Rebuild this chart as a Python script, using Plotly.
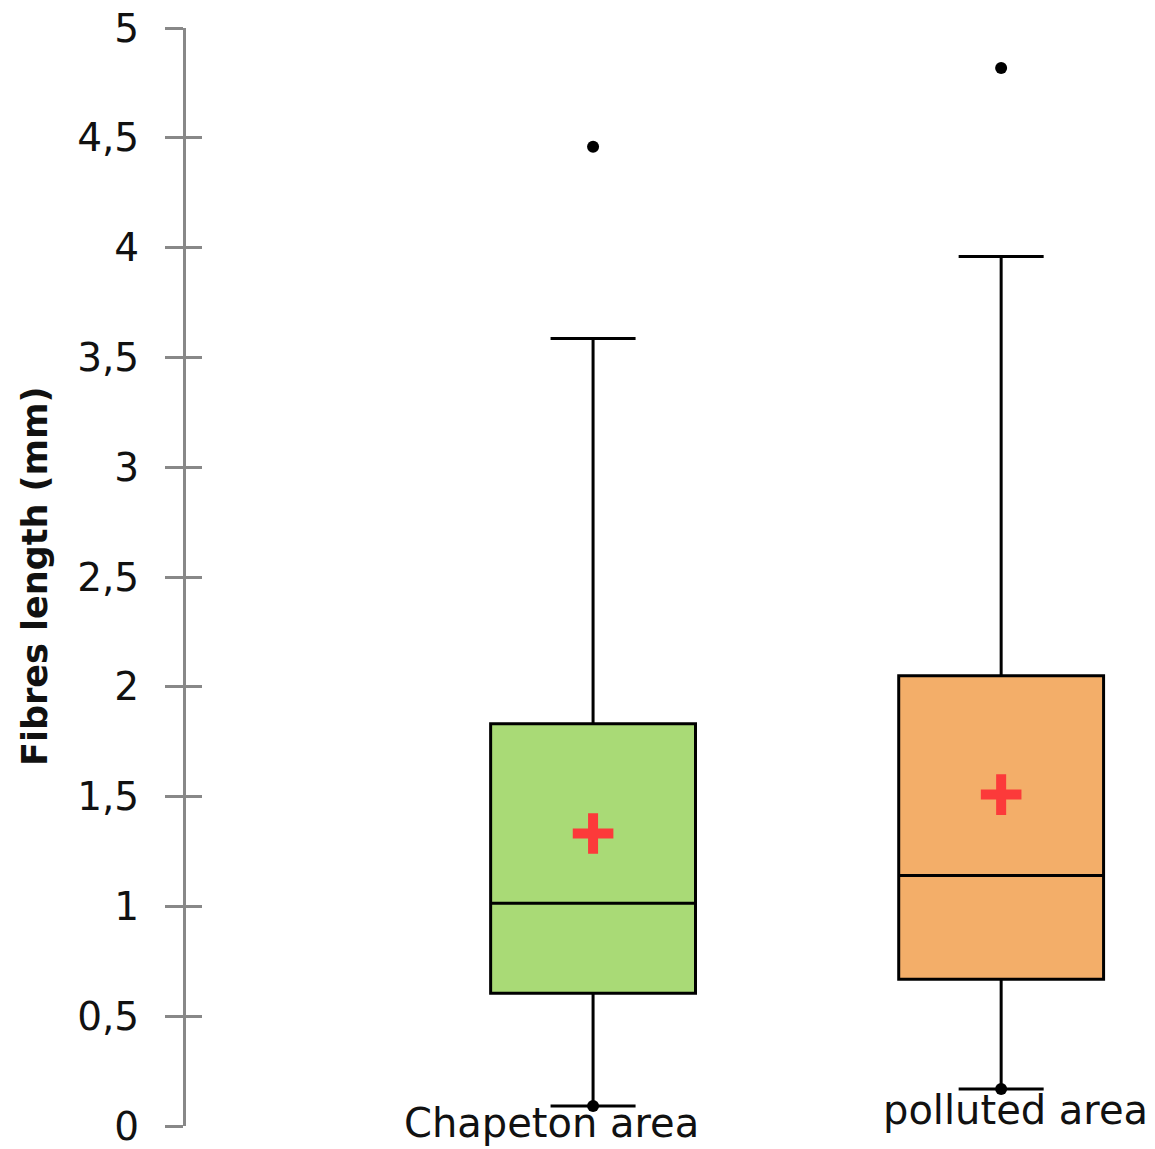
import plotly.graph_objects as go

# Data
categories = ["Chapeton area", "polluted area"]
positions = [0, 1]
q1 = [0.605, 0.668]
median = [1.014, 1.141]
q3 = [1.832, 2.05]
lower_whisker = [0.091, 0.168]
upper_whisker = [3.586, 3.959]
means = [1.332, 1.509]
outliers = [4.459, 4.818]
minimums = [0.091, 0.168]
fill_colors = ["#A9DA76", "#F3AE69"]

yticks = [0, 0.5, 1, 1.5, 2, 2.5, 3, 3.5, 4, 4.5, 5]

fig = go.Figure()

for i in range(len(categories)):
    fig.add_trace(go.Box(
        x=[positions[i]],
        q1=[q1[i]], median=[median[i]], q3=[q3[i]],
        lowerfence=[lower_whisker[i]], upperfence=[upper_whisker[i]],
        name=categories[i],
        fillcolor=fill_colors[i],
        line=dict(color="black", width=3),
        width=0.502,
        whiskerwidth=0.415,
        boxpoints=False,
        hoverinfo="skip",
        showlegend=False,
    ))

# outliers and minimum points
fig.add_trace(go.Scatter(
    x=positions + positions, y=outliers + minimums, mode="markers",
    marker=dict(symbol="circle", size=12, color="black"),
    showlegend=False, hoverinfo="skip",
))

# means
fig.add_trace(go.Scatter(
    x=positions, y=means, mode="markers",
    marker=dict(symbol="cross-thin", size=29,
                line=dict(color="#FC3A3A", width=10)),
    showlegend=False, hoverinfo="skip",
))

fig.update_layout(
    width=1155, height=1149,
    margin=dict(l=186, r=0, t=28, b=19),
    paper_bgcolor="white", plot_bgcolor="white",
    separators=",.",
    font=dict(family="DejaVu Sans", color="#111111"),
    xaxis=dict(range=[-0.9975, 1.377], showgrid=False, zeroline=False,
               showline=False, showticklabels=False, ticks=""),
    yaxis=dict(range=[0, 5], tickvals=yticks, showgrid=False, zeroline=False,
               showline=True, linecolor="#888888", linewidth=3,
               ticks="outside", ticklen=18, tickwidth=3, tickcolor="#888888",
               tickfont=dict(size=39, family="DejaVu Sans", color="#111111"),
               ticklabelstandoff=18, ticklabeloverflow="allow"),
    yaxis2=dict(range=[0, 5], tickvals=yticks, overlaying="y", side="left",
                anchor="x", showgrid=False, zeroline=False, showline=False,
                ticks="inside", ticklen=16, tickwidth=3, tickcolor="#888888",
                showticklabels=False),
)

# invisible trace to activate yaxis2
fig.add_trace(go.Scatter(x=[positions[0]], y=[0], yaxis="y2", mode="markers",
                         marker=dict(opacity=0), showlegend=False, hoverinfo="skip"))

# category labels
label_x = [-0.103, 1.034]
label_y = [0.0025, 0.0145]
for i in range(len(categories)):
    fig.add_annotation(x=label_x[i], y=label_y[i], xref="x", yref="paper",
                       text=categories[i], showarrow=False,
                       font=dict(size=40, family="DejaVu Sans", color="#111111"),
                       xanchor="center", yanchor="middle")

# y axis title
fig.add_annotation(x=(35 - 186) / 969, y=0.5, xref="paper", yref="paper",
                   text="<b>Fibres length (mm)</b>", textangle=-90, showarrow=False,
                   font=dict(size=35, family="DejaVu Sans", color="#111111"),
                   xanchor="center", yanchor="middle")

fig.write_html("out.html")
